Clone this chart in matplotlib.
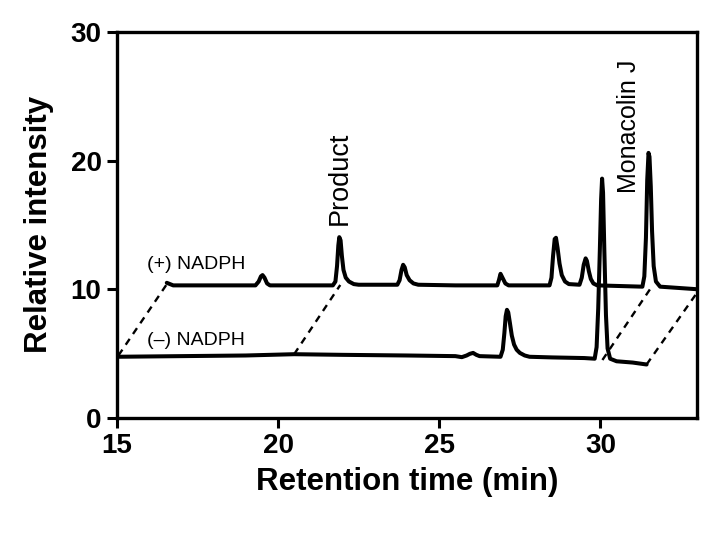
import numpy as np
import matplotlib.pyplot as plt

plt.rcParams['font.family'] = ['Liberation Sans', 'DejaVu Sans']

# (-) NADPH trace (time in min, intensity)
minus_t = [15.0, 17.0, 19.0, 20.5, 22.0, 24.0, 25.5, 25.7, 25.85, 25.95, 26.05,
           26.15, 26.25, 26.9, 26.97, 27.02, 27.06, 27.1, 27.14, 27.19, 27.25,
           27.32, 27.4, 27.5, 27.65, 27.8, 28.5, 29.5, 29.82, 29.88, 29.93,
           29.98, 30.02, 30.05, 30.08, 30.12, 30.17, 30.22, 30.3, 30.5, 31.0, 31.43]
minus_y = [4.75, 4.8, 4.85, 4.95, 4.9, 4.85, 4.8, 4.72, 4.85, 4.98, 5.05,
           4.9, 4.8, 4.75, 5.3, 6.6, 7.9, 8.4, 8.2, 7.4, 6.4,
           5.7, 5.3, 5.05, 4.85, 4.75, 4.7, 4.65, 4.6, 5.5, 8.5,
           13.0, 17.0, 18.6, 17.5, 13.0, 8.0, 5.4, 4.6, 4.4, 4.3, 4.15]

# (+) NADPH trace, as displayed (shifted in the picture)
plus_t = [16.55, 16.75, 18.0, 19.3, 19.4, 19.47, 19.52, 19.58, 19.66, 19.75,
          21.7, 21.78, 21.83, 21.87, 21.9, 21.94, 21.98, 22.03, 22.1, 22.2, 22.35, 22.5,
          23.7, 23.77, 23.83, 23.88, 23.93, 23.99, 24.08, 24.2, 24.35,
          25.5, 26.8, 26.85, 26.9, 26.96, 27.05, 27.15,
          28.42, 28.48, 28.53, 28.58, 28.62, 28.67, 28.73, 28.8, 28.9, 29.02,
          29.35, 29.42, 29.48, 29.54, 29.58, 29.64, 29.7, 29.78, 29.9,
          31.3, 31.36, 31.41, 31.45, 31.49, 31.52, 31.56, 31.6, 31.65, 31.72, 31.85, 33.0]
plus_y = [10.5, 10.3, 10.3, 10.3, 10.6, 11.0, 11.1, 10.9, 10.45, 10.3,
          10.3, 10.6, 11.8, 13.4, 14.05, 13.8, 12.6, 11.5, 10.9, 10.6, 10.4, 10.35,
          10.35, 10.7, 11.5, 11.9, 11.7, 11.1, 10.7, 10.45, 10.35,
          10.3, 10.3, 10.7, 11.2, 10.9, 10.45, 10.3,
          10.3, 10.9, 12.6, 13.9, 14.0, 13.2, 12.0, 11.1, 10.6, 10.4,
          10.35, 10.9, 11.9, 12.4, 12.2, 11.4, 10.8, 10.45, 10.3,
          10.2, 11.0, 14.0, 18.5, 20.6, 20.3, 18.0, 14.5, 11.8, 10.6, 10.2, 10.0]

# dashed links between the two traces
link_lo_t = [15.05, 20.5, 30.06, 31.43]
link_lo_y = [4.85, 4.95, 4.5, 4.15]
link_hi_t = [16.58, 21.93, 31.55, 33.0]
link_hi_y = [10.5, 10.33, 10.05, 9.75]

fig = plt.figure(figsize=(7.21, 5.33), dpi=100)
ax = fig.add_axes([0.162, 0.216, 0.805, 0.724])

ax.plot(minus_t, minus_y, color='black', lw=2.9, solid_joinstyle='round',
        solid_capstyle='round', zorder=3)
ax.plot(plus_t, plus_y, color='black', lw=2.9, solid_joinstyle='round',
        solid_capstyle='round', zorder=3)

for x0, y0, x1, y1 in zip(link_lo_t, link_lo_y, link_hi_t, link_hi_y):
    ax.plot([x0, x1], [y0, y1], color='black', lw=1.7, ls=(0, (3, 2.5)),
            clip_on=False, zorder=2)

ax.text(15.95, 11.9, '(+) NADPH', fontsize=14, va='center', ha='left')
ax.text(15.95, 6.05, '(–) NADPH', fontsize=14, va='center', ha='left')
ax.text(21.9, 15.0, 'Product', fontsize=19.5, rotation=90, ha='center', va='bottom')
ax.text(30.9, 17.5, 'Monacolin J', fontsize=18, rotation=90, ha='center', va='bottom')

ax.set_xlim(15, 33)
ax.set_ylim(0, 30)
ax.set_xticks([15, 20, 25, 30])
ax.set_yticks([0, 10, 20, 30])

for s in ax.spines.values():
    s.set_linewidth(2.4)
ax.tick_params(direction='out', length=7, width=2.2, labelsize=20, pad=4)
for lab in ax.get_xticklabels() + ax.get_yticklabels():
    lab.set_fontweight('bold')

ax.set_xlabel('Retention time (min)', fontsize=22.5, fontweight='bold', labelpad=6)
ax.set_ylabel('Relative intensity', fontsize=22.5, fontweight='bold', labelpad=12)

fig.savefig('out.png', dpi=100)
